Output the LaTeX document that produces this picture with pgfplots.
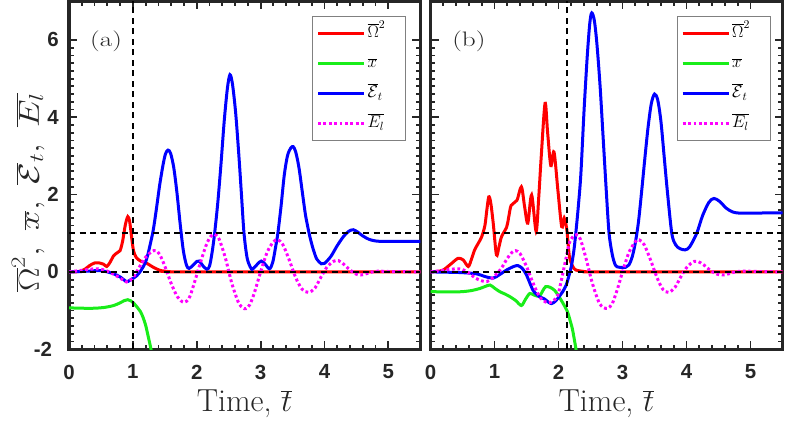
\RequirePackage{fix-cm}
\documentclass[border=0pt]{standalone}
\usepackage{fontspec}
\usepackage{pgfplots}
\pgfplotsset{compat=1.18}
\newfontfamily\tickfont{Liberation Sans}
\definecolor{axgray}{HTML}{262626}
\definecolor{cred}{rgb}{1,0,0}
\definecolor{cgreen}{rgb}{0.1,0.93,0.1}
\definecolor{cblue}{rgb}{0,0,1}
\definecolor{cmag}{rgb}{1,0,1}
\pgfplotsset{
  panel/.style={
    scale only axis, height=347.9bp,
    xmin=0, xmax=5.5, ymin=-2, ymax=7,
    axis line style={line width=3bp, axgray},
    tick style={line width=1.8bp, axgray},
    tick align=inside,
    major tick length=8bp, minor tick length=4.5bp,
    xtick={0,1,2,3,4,5}, minor x tick num=4,
    ytick={-2,0,2,4,6}, minor y tick num=9,
    xticklabels={0,1,2,3,4,5},
    xticklabel style={font=\tickfont\fontsize{20.5}{21}\selectfont\bfseries, text=axgray, inner sep=0pt, anchor=north, yshift=-15.5bp},
    yticklabel style={font=\tickfont\fontsize{20.5}{21}\selectfont\bfseries, text=axgray, inner sep=0pt, anchor=east, xshift=-10bp},
    xlabel={Time, $\overline{t}$},
    xlabel style={font=\fontsize{32}{33}\selectfont, text=axgray, at={(axis description cs:0.5,-0.18)}, anchor=base},
    legend cell align=left,
    legend style={anchor=north east, draw=gray, line width=1bp, fill=white,
      font=\fontsize{17}{17}\selectfont, inner xsep=4bp, inner ysep=7bp, row sep=10bp,
      nodes={inner sep=2bp, text height=12bp, text depth=4bp}},
    legend image code/.code={\draw[#1, line width=3bp, sharp plot] (0bp,0bp) -- (46bp,0bp);},
    every axis plot/.append style={line width=3bp, smooth},
  },
  refline/.style={forget plot, black, line width=1.7bp, dash pattern=on 6bp off 4.5bp, sharp plot},
}
\newcommand{\legE}{%
  \addlegendentry{\makebox[32bp][l]{$\overline{\Omega}^2$}}
  \addlegendentry{\makebox[32bp][l]{$\overline{x}$}}
  \addlegendentry{\makebox[32bp][l]{$\overline{\mathcal{E}}_t$}}
  \addlegendentry{\makebox[32bp][l]{$\overline{E_l}$}}}
\begin{document}
\begin{tikzpicture}
% ---------------- panel (a) ----------------
\begin{axis}[panel, width=351.3bp, at={(69bp,73.8bp)}, anchor=south west,
  yticklabels={-2\hphantom{-},0,2,4,6},
  ylabel={\scalebox{1.22}[1]{$\overline{\Omega}^2,\ \overline{x},\ \overline{\mathcal{E}}_t,\ \overline{E_l}$}},
  ylabel style={font=\fontsize{29}{30}\selectfont, text=axgray, at={(axis description cs:-0.086,0.45)}, anchor=base, rotate=0},
  legend style={at={(axis description cs:0.9593,0.9578)}},
]
\addplot[cred] coordinates {(0,0) (0.1,0.0) (0.18,0.02) (0.25,0.07) (0.32,0.16) (0.4,0.23) (0.48,0.23) (0.54,0.2) (0.59,0.14) (0.64,0.24) (0.7,0.42) (0.76,0.5) (0.8,0.55) (0.84,0.8) (0.88,1.2) (0.92,1.43) (0.95,1.3) (0.98,0.9) (1.01,0.55) (1.05,0.38) (1.12,0.28) (1.2,0.24) (1.26,0.18) (1.32,0.12) (1.38,0.07) (1.45,0.03) (1.55,0.01) (1.65,0) (3,0) (5.5,0)};
\addplot[cgreen] coordinates {(0,-0.93) (0.2,-0.94) (0.4,-0.94) (0.55,-0.92) (0.7,-0.87) (0.8,-0.8) (0.87,-0.74) (0.92,-0.72) (0.97,-0.75) (1.03,-0.84) (1.08,-0.94) (1.12,-1.03) (1.16,-1.18) (1.2,-1.38) (1.24,-1.67) (1.28,-1.97) (1.3,-2.2)};
\addplot[cblue] coordinates {(0,0) (0.2,0.01) (0.4,0.03) (0.5,0.03) (0.6,0.0) (0.7,-0.05) (0.8,-0.13) (0.9,-0.25) (0.95,-0.22) (1.0,-0.17) (1.06,-0.1) (1.12,0.02) (1.19,0.22) (1.23,0.42) (1.27,0.7) (1.32,1.09) (1.37,1.65) (1.42,2.25) (1.47,2.75) (1.51,3.05) (1.55,3.15) (1.59,3.07) (1.64,2.7) (1.69,2.05) (1.74,1.25) (1.79,0.55) (1.84,0.17) (1.88,0.09) (1.94,0.17) (2.0,0.27) (2.04,0.28) (2.1,0.15) (2.16,0.07) (2.2,0.15) (2.24,0.5) (2.28,1.0) (2.33,1.8) (2.38,2.8) (2.43,3.9) (2.48,4.75) (2.52,5.1) (2.56,4.85) (2.61,4.1) (2.66,3.0) (2.7,2.0) (2.74,1.0) (2.79,0.35) (2.85,0.09) (2.88,0.08) (2.95,0.2) (3.01,0.28) (3.07,0.2) (3.14,0.08) (3.19,0.25) (3.23,0.6) (3.27,1.0) (3.32,1.7) (3.37,2.5) (3.42,3.0) (3.47,3.2) (3.51,3.24) (3.55,3.1) (3.6,2.7) (3.65,2.1) (3.7,1.5) (3.74,1.15) (3.78,0.85) (3.83,0.55) (3.88,0.33) (3.95,0.21) (4.0,0.22) (4.1,0.4) (4.2,0.68) (4.3,0.92) (4.38,1.05) (4.45,1.09) (4.52,1.03) (4.6,0.93) (4.7,0.84) (4.8,0.8) (4.9,0.79) (5.2,0.79) (5.5,0.79)};
\addplot[cmag, dash pattern=on 2.8bp off 2.6bp] coordinates {(0,0) (0.2,0.04) (0.4,0.08) (0.5,0.07) (0.6,0.02) (0.7,-0.06) (0.8,-0.16) (0.9,-0.26) (0.95,-0.24) (1.0,-0.15) (1.05,-0.03) (1.1,0.12) (1.2,0.38) (1.3,0.53) (1.36,0.55) (1.42,0.45) (1.5,0.15) (1.6,-0.3) (1.7,-0.65) (1.8,-0.79) (1.88,-0.68) (1.95,-0.35) (2.05,0.2) (2.15,0.7) (2.22,0.92) (2.28,0.97) (2.35,0.85) (2.45,0.35) (2.55,-0.3) (2.65,-0.78) (2.72,-0.93) (2.77,-0.95) (2.83,-0.85) (2.9,-0.55) (3.0,0.0) (3.1,0.5) (3.2,0.78) (3.27,0.83) (3.35,0.7) (3.45,0.3) (3.55,-0.15) (3.65,-0.45) (3.75,-0.53) (3.85,-0.42) (3.95,-0.12) (4.05,0.15) (4.15,0.28) (4.22,0.29) (4.3,0.2) (4.4,0.05) (4.5,-0.06) (4.57,-0.08) (4.65,-0.05) (4.75,0.0) (4.85,0.02) (5.0,0.01) (5.5,0)};
\legE
\addplot[refline] coordinates {(0,1) (5.5,1)};
\addplot[refline] coordinates {(0,0) (5.5,0)};
\addplot[refline] coordinates {(1,-2) (1,7)};
\node[font=\fontsize{21}{21}\selectfont, text=axgray] at (axis cs:0.58,5.96) {\scalebox{1.3}[1]{(a)}};
\end{axis}
% ---------------- panel (b) ----------------
\begin{axis}[panel, width=352bp, at={(430.5bp,73.8bp)}, anchor=south west,
  yticklabels={},
  legend style={at={(axis description cs:0.9665,0.9578)}},
]
\addplot[cred] coordinates {(0,0) (0.1,0.01) (0.2,0.05) (0.33,0.22) (0.43,0.35) (0.51,0.31) (0.59,0.14) (0.64,0.33) (0.69,0.57) (0.75,0.75) (0.8,0.91) (0.85,1.2) (0.88,1.6) (0.91,1.94) (0.94,1.8) (0.98,1.26) (1.03,0.44) (1.07,0.65) (1.11,0.91) (1.19,1.16) (1.22,1.4) (1.26,1.72) (1.35,1.85) (1.42,2.2) (1.47,1.69) (1.52,1.26) (1.58,1.99) (1.65,1.05) (1.69,1.9) (1.73,2.98) (1.79,4.36) (1.83,3.6) (1.88,2.75) (1.93,3.1) (1.99,2.12) (2.05,1.17) (2.09,1.39) (2.13,1.09) (2.17,0.4) (2.22,0.15) (2.27,0.05) (2.4,0.01) (2.5,0) (4,0) (5.5,0)};
\addplot[cgreen] coordinates {(0,-0.51) (0.3,-0.52) (0.51,-0.51) (0.65,-0.48) (0.77,-0.43) (0.85,-0.38) (0.93,-0.34) (1.0,-0.42) (1.08,-0.51) (1.16,-0.57) (1.24,-0.64) (1.33,-0.74) (1.42,-0.87) (1.48,-0.72) (1.55,-0.56) (1.62,-0.6) (1.7,-0.63) (1.75,-0.5) (1.8,-0.38) (1.87,-0.4) (1.94,-0.48) (2.0,-0.62) (2.07,-0.81) (2.14,-1.03) (2.18,-1.25) (2.22,-1.5) (2.27,-1.97) (2.3,-2.3)};
\addplot[cblue] coordinates {(0,0) (0.3,-0.01) (0.5,-0.02) (0.72,-0.05) (0.85,-0.12) (0.98,-0.16) (1.08,-0.07) (1.19,0.05) (1.3,0.14) (1.37,0.16) (1.44,0.08) (1.5,-0.08) (1.55,-0.28) (1.6,-0.47) (1.65,-0.57) (1.7,-0.64) (1.78,-0.7) (1.84,-0.78) (1.89,-0.82) (1.95,-0.76) (2.01,-0.64) (2.07,-0.5) (2.12,-0.34) (2.16,-0.12) (2.2,0.14) (2.24,0.55) (2.27,1.0) (2.31,1.7) (2.35,2.55) (2.4,4.2) (2.45,5.6) (2.49,6.45) (2.52,6.7) (2.56,6.5) (2.6,5.9) (2.65,4.8) (2.7,3.4) (2.75,2.0) (2.79,1.0) (2.84,0.45) (2.89,0.17) (2.95,0.12) (3.05,0.12) (3.1,0.18) (3.15,0.38) (3.2,0.75) (3.25,1.3) (3.3,2.1) (3.35,2.95) (3.4,3.75) (3.45,4.35) (3.5,4.6) (3.55,4.45) (3.6,3.9) (3.65,3.0) (3.7,2.1) (3.77,1.0) (3.83,0.7) (3.9,0.6) (3.98,0.57) (4.05,0.65) (4.16,1.0) (4.25,1.45) (4.35,1.8) (4.43,1.9) (4.52,1.82) (4.62,1.65) (4.72,1.55) (4.83,1.52) (5.0,1.52) (5.5,1.53)};
\addplot[cmag, dash pattern=on 2.8bp off 2.6bp] coordinates {(0,0) (0.2,0.04) (0.4,0.08) (0.5,0.06) (0.6,-0.03) (0.7,-0.16) (0.8,-0.23) (0.88,-0.25) (0.96,-0.17) (1.04,-0.04) (1.11,0.1) (1.2,0.35) (1.27,0.5) (1.33,0.55) (1.4,0.47) (1.5,0.14) (1.58,-0.2) (1.65,-0.47) (1.72,-0.68) (1.8,-0.78) (1.85,-0.8) (1.92,-0.75) (1.99,-0.6) (2.04,-0.25) (2.09,0.14) (2.13,0.45) (2.17,0.75) (2.22,0.9) (2.28,0.96) (2.34,0.85) (2.43,0.35) (2.53,-0.3) (2.63,-0.78) (2.7,-0.92) (2.77,-0.94) (2.84,-0.82) (2.92,-0.45) (3.0,0.0) (3.1,0.5) (3.2,0.78) (3.26,0.83) (3.34,0.7) (3.44,0.3) (3.54,-0.15) (3.63,-0.45) (3.72,-0.53) (3.82,-0.4) (3.92,-0.1) (4.02,0.15) (4.12,0.27) (4.18,0.27) (4.27,0.18) (4.38,0.03) (4.48,-0.06) (4.57,-0.08) (4.66,-0.05) (4.76,0.0) (4.9,0.02) (5.1,0.01) (5.5,0)};
\legE
\addplot[refline] coordinates {(0,1) (5.5,1)};
\addplot[refline] coordinates {(0,0) (5.5,0)};
\addplot[refline] coordinates {(2.135,-2) (2.135,7)};
\node[font=\fontsize{21}{21}\selectfont, text=axgray] at (axis cs:0.6,5.96) {\scalebox{1.3}[1]{(b)}};
\end{axis}
\pgfresetboundingbox
\path[use as bounding box] (0,0) rectangle (789bp,423bp);
\end{tikzpicture}
\end{document}
